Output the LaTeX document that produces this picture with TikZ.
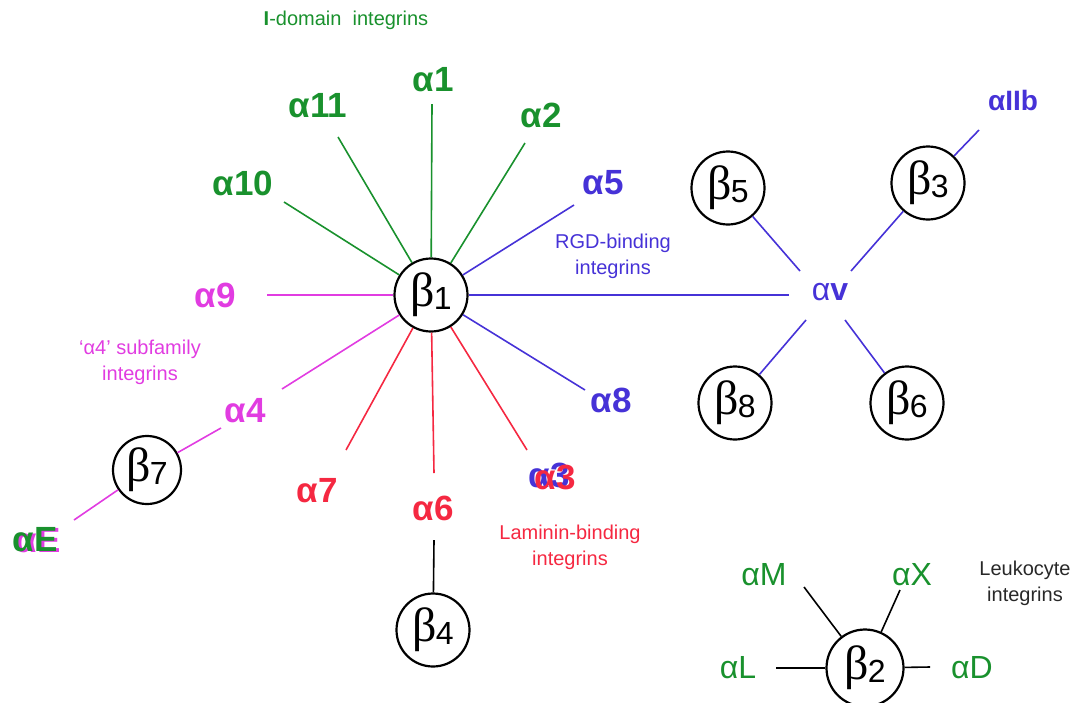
\documentclass[tikz,border=0pt]{standalone}
\usepackage{fontspec}
\setmainfont{Liberation Sans}
\newfontfamily\betafont{Liberation Serif}
\definecolor{cgreen}{RGB}{25,145,45}
\definecolor{cblue}{RGB}{70,50,215}
\definecolor{cmag}{RGB}{225,60,225}
\definecolor{cred}{RGB}{245,40,65}
\definecolor{cgray}{RGB}{40,40,40}
\newcommand{\bsub}[1]{{\betafont\fontsize{48}{48}\selectfont β}\kern-1pt\raisebox{-3pt}{\fontsize{32}{32}\selectfont #1}}
\begin{document}
\begin{tikzpicture}[x=1pt,y=-1pt,
  bcirc/.style={circle,draw,line width=2.2pt,minimum size=73pt,inner sep=0pt,fill=white},
  biglab/.style={font=\fontsize{35}{35}\selectfont\bfseries,inner sep=1pt},
  smlab/.style={font=\fontsize{32}{32}\selectfont,inner sep=1pt},
  note/.style={font=\fontsize{20}{26}\selectfont,align=center,inner sep=0pt},
  link/.style={line width=1.6pt}]
\useasboundingbox (0,0) rectangle (1084,702);
% texts
\node[note,text=cgreen] (tidom) at (346,20) {{\bfseries I}-domain\ \ integrins};
\node[note,text=cblue] (trgd) at (613,256) {RGD-binding\\integrins};
\node[note,text=cmag] (ta4) at (140,362) {`α4' subfamily\\integrins};
\node[note,text=cred] (tlam) at (570,547) {Laminin-binding\\integrins};
\node[note,text=cgray] (tleu) at (1025,583) {Leukocyte\\integrins};
% beta circles
\node[bcirc] (b1) at (431,295) {\bsub{1}};
\node[bcirc,minimum size=68pt] (b7) at (147,470) {\bsub{7}};
\node[bcirc] (b4) at (433,630) {\bsub{4}};
\node[bcirc] (b5) at (728,188) {\bsub{5}};
\node[bcirc] (b3) at (928,183) {\bsub{3}};
\node[bcirc] (b8) at (735,403) {\bsub{8}};
\node[bcirc] (b6) at (907,403) {\bsub{6}};
\node[bcirc,minimum size=77pt] (b2) at (865,668) {\bsub{2}};
% alpha labels
\node[biglab,text=cgreen] (a1) at (433,80) {α1};
\node[biglab,text=cgreen] (a11) at (318,106) {α11};
\node[biglab,text=cgreen] (a2) at (541,115) {α2};
\node[biglab,text=cgreen] (a10) at (243,183) {α10};
\node[biglab,text=cblue] (a5) at (603,183) {α5};
\node[biglab,text=cmag] (a9) at (215,295) {α9};
\node[biglab,text=cblue] (a8) at (611,400) {α8};
\node[biglab,text=cblue] (a3b) at (549,475) {α3};
\node[biglab,text=cred] (a3) at (555,477) {α3};
\node[biglab,text=cred] (a6) at (433,508) {α6};
\node[biglab,text=cred] (a7) at (317,491) {α7};
\node[biglab,text=cmag] (a4) at (245,411) {α4};
\node[biglab,text=cmag] (aEm) at (38,541) {αE};
\node[biglab,text=cgreen] (aE) at (35,540) {αE};
\node[smlab,text=cblue] (av) at (830,292) {α{\bfseries v}};
\node[biglab,text=cblue,font=\fontsize{28}{28}\selectfont\bfseries] (aIIb) at (1013,100) {αIIb};
\node[smlab,text=cgreen] (aM) at (764,575) {αM};
\node[smlab,text=cgreen] (aX) at (912,575) {αX};
\node[smlab,text=cgreen] (aL) at (738,668) {αL};
\node[smlab,text=cgreen] (aD) at (972,668) {αD};
% free line ends
\coordinate (e1) at (432,104);
\coordinate (e11) at (338,137);
\coordinate (e2) at (525,143);
\coordinate (e10) at (284,202);
\coordinate (e5) at (574,205);
\coordinate (e9) at (267,295);
\coordinate (ev) at (789,295);
\coordinate (e8) at (585,390);
\coordinate (e3) at (527,450);
\coordinate (e6) at (434,473);
\coordinate (e7) at (346,450);
\coordinate (e4) at (282,389);
\coordinate (e4b) at (221,428);
\coordinate (eE) at (74,520);
\coordinate (e6b) at (434,540);
\coordinate (vul) at (800,271);
\coordinate (vur) at (851,271);
\coordinate (vll) at (806,320);
\coordinate (vlr) at (845,320);
\coordinate (eIIb) at (979,130);
\coordinate (eM) at (804,587);
\coordinate (eX) at (900,590);
\coordinate (eL) at (776,668);
\coordinate (eD) at (930,667);
% connectors
\draw[link,cgreen] (b1) -- (e1);
\draw[link,cgreen] (b1) -- (e11);
\draw[link,cgreen] (b1) -- (e2);
\draw[link,cgreen] (b1) -- (e10);
\draw[link,cblue] (b1) -- (e5);
\draw[link,cmag,line width=2.4pt] (b1) -- (e9);
\draw[link,cblue] (b1) -- (ev);
\draw[link,cblue] (b1) -- (e8);
\draw[link,cred] (b1) -- (e3);
\draw[link,cred] (b1) -- (e6);
\draw[link,cred] (b1) -- (e7);
\draw[link,cmag] (b1) -- (e4);
\draw[link,cmag] (b7) -- (e4b);
\draw[link,cmag] (b7) -- (eE);
\draw[link] (b4) -- (e6b);
\draw[link,cblue] (b5) -- (vul);
\draw[link,cblue] (b3) -- (vur);
\draw[link,cblue] (b8) -- (vll);
\draw[link,cblue] (b6) -- (vlr);
\draw[link,cblue] (b3) -- (eIIb);
\draw[link] (b2) -- (eM);
\draw[link] (b2) -- (eX);
\draw[link] (b2) -- (eL);
\draw[link] (b2) -- (eD);
\end{tikzpicture}
\end{document}
